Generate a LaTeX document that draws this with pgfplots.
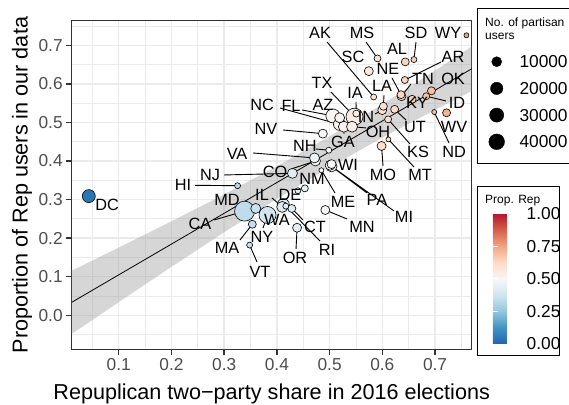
\documentclass[border=0pt]{standalone}
\usepackage{fontspec}
\setmainfont{Liberation Sans}
\usepackage{pgfplots}
\usepackage{pgfplotstable}
\pgfplotsset{compat=1.18}
\definecolor{gridc}{HTML}{EBEBEB}
\definecolor{framec}{HTML}{333333}
\definecolor{tickc}{HTML}{4D4D4D}
\definecolor{bandc}{HTML}{999999}
\newcommand{\tickfont}{\fontsize{17.3bp}{20bp}\selectfont}
\newcommand{\titlefont}{\fontsize{21.6bp}{25bp}\selectfont}
\newcommand{\labfont}{\fontsize{16.3bp}{19bp}\selectfont}
\newcommand{\legtitlefont}{\fontsize{12bp}{13bp}\selectfont}
\pgfplotsset{colormap={RdBu}{rgb255=(33,102,172) rgb255=(67,147,195) rgb255=(146,197,222) rgb255=(209,229,240) rgb255=(247,247,247) rgb255=(253,219,199) rgb255=(244,165,130) rgb255=(214,96,77) rgb255=(178,24,43)}}
\pgfplotsset{statepts/.style={forget plot, scatter, only marks, mark=*, point meta=explicit,
  scatter/use mapped color={draw=black, fill=mapped color},
  mark options={line width=0.6bp}, mark size=#1}}

% state labels: state, label position
\pgfplotstableread{
st lx ly
AK 0.4818 0.7319
AL 0.6278 0.6904
AR 0.7341 0.6697
AZ 0.4875 0.5452
CA 0.2542 0.2367
CO 0.3964 0.3715
CT 0.4723 0.2289
DC 0.0778 0.2860
DE 0.4249 0.3119
FL 0.4268 0.5426
GA 0.5254 0.4493
HI 0.2219 0.3378
IA 0.5482 0.5763
ID 0.7417 0.5504
IL 0.3718 0.3119
IN 0.5690 0.5141
KS 0.6677 0.4234
KY 0.6658 0.5504
LA 0.5994 0.5945
MA 0.3054 0.1745
MD 0.3054 0.2989
ME 0.5254 0.2943
MI 0.6411 0.2549
MN 0.5615 0.2294
MO 0.6013 0.3638
MS 0.5615 0.7319
MT 0.6715 0.3638
NC 0.3718 0.5452
ND 0.7360 0.4234
NE 0.6108 0.6386
NH 0.4533 0.4389
NJ 0.2731 0.3638
NM 0.4666 0.3534
NV 0.3794 0.4830
NY 0.3718 0.2030
OH 0.5918 0.4753
OK 0.7341 0.6126
OR 0.4344 0.1486
PA 0.5899 0.2989
RI 0.4951 0.1693
SC 0.5444 0.6697
SD 0.6639 0.7319
TN 0.6772 0.6126
TX 0.4856 0.6022
UT 0.6620 0.4882
VA 0.3244 0.4189
VT 0.3680 0.1123
WA 0.4002 0.2471
WI 0.5349 0.3897
WV 0.7360 0.4882
WY 0.7246 0.7319
}\labels

% points grouped by number of partisan users (x = Rep two-party share 2016, y = prop. Rep users)
\pgfplotstableread{
st x y
CA 0.3387 0.270
}\gA % ~76000 users
\pgfplotstableread{
st x y
NY 0.3822 0.260
TX 0.5472 0.515
}\gB % ~50000
\pgfplotstableread{
st x y
FL 0.5062 0.517
}\gC % ~29000
\pgfplotstableread{
st x y
DC 0.0432 0.309
}\gD % ~23000
\pgfplotstableread{
st x y
NC 0.5187 0.495
WA 0.4121 0.287
}\gE % ~18000
\pgfplotstableread{
st x y
GA 0.5270 0.489
IL 0.4101 0.281
OH 0.5425 0.489
PA 0.5037 0.386
}\gF % ~14000
\pgfplotstableread{
st x y
AZ 0.5190 0.512
CO 0.4732 0.400
MD 0.3599 0.277
MI 0.5011 0.389
NJ 0.4295 0.368
VA 0.4713 0.408
}\gG % ~10000
\pgfplotstableread{
st x y
IN 0.5998 0.532
MN 0.4918 0.273
MO 0.5985 0.439
NV 0.4872 0.471
OR 0.4383 0.227
SC 0.5743 0.633
TN 0.6363 0.568
WI 0.5037 0.392
}\gH % ~7000
\pgfplotstableread{
st x y
AL 0.6435 0.657
CT 0.4283 0.277
KY 0.6565 0.560
LA 0.6020 0.542
MA 0.3534 0.236
NE 0.6353 0.572
OK 0.6932 0.582
UT 0.6233 0.534
WV 0.7218 0.525
}\gI % ~4000
\pgfplotstableread{
st x y
AR 0.6426 0.610
IA 0.5506 0.523
ID 0.6832 0.568
KS 0.6110 0.508
MS 0.5908 0.666
NM 0.4530 0.329
}\gJ % ~2000
\pgfplotstableread{
st x y
AK 0.5836 0.566
DE 0.4399 0.323
HI 0.3254 0.336
NH 0.4984 0.428
RI 0.4169 0.283
SD 0.6599 0.663
VT 0.3483 0.182
}\gK % ~900
\pgfplotstableread{
st x y
ME 0.4844 0.376
MT 0.6115 0.456
ND 0.6984 0.527
WY 0.7595 0.726
}\gL % ~150

% label leader segments: from label edge to the point
\pgfplotstableread{
x y
0.4951 0.7086
0.5836 0.566
nan nan
0.7113 0.6567
0.6426 0.610
nan nan
0.5064 0.5271
0.5190 0.512
nan nan
0.2807 0.2471
0.3387 0.270
nan nan
0.4268 0.3793
0.4732 0.400
nan nan
0.4495 0.2471
0.4283 0.277
nan nan
0.4477 0.5323
0.5062 0.517
nan nan
0.5273 0.4701
0.5270 0.489
nan nan
0.2447 0.3370
0.3254 0.336
nan nan
0.5500 0.5529
0.5506 0.523
nan nan
0.7208 0.5556
0.6832 0.568
nan nan
0.3907 0.3042
0.4101 0.281
nan nan
0.5861 0.5219
0.5998 0.532
nan nan
0.6525 0.4441
0.6110 0.508
nan nan
0.6032 0.5711
0.6020 0.542
nan nan
0.3300 0.1952
0.3534 0.236
nan nan
0.3319 0.2912
0.3599 0.277
nan nan
0.5102 0.3171
0.4844 0.376
nan nan
0.6222 0.2704
0.5011 0.389
nan nan
0.5330 0.2497
0.4918 0.273
nan nan
0.6013 0.3871
0.5985 0.439
nan nan
0.5691 0.7086
0.5908 0.666
nan nan
0.6601 0.3845
0.6115 0.456
nan nan
0.4059 0.5375
0.5187 0.495
nan nan
0.7265 0.4467
0.6984 0.527
nan nan
0.6184 0.6152
0.6353 0.572
nan nan
0.4742 0.4311
0.4984 0.428
nan nan
0.2997 0.3638
0.4295 0.368
nan nan
0.4116 0.4804
0.4872 0.471
nan nan
0.3737 0.2263
0.3822 0.260
nan nan
0.5690 0.4857
0.5425 0.489
nan nan
0.4363 0.1719
0.4383 0.227
nan nan
0.5709 0.3171
0.5037 0.386
nan nan
0.4818 0.1926
0.4169 0.283
nan nan
0.6639 0.7086
0.6599 0.663
nan nan
0.6544 0.5997
0.6363 0.568
nan nan
0.5026 0.5789
0.5472 0.515
nan nan
0.6449 0.5063
0.6233 0.534
nan nan
0.3547 0.4208
0.4713 0.408
nan nan
0.3623 0.1382
0.3483 0.182
nan nan
0.4059 0.2704
0.4121 0.287
}\segs

% confidence band of the linear fit (upper edge, then lower edge back)
\pgfplotstableread{
x y
0.0108 0.1156
0.1 0.1755
0.2 0.2436
0.3 0.3134
0.4 0.3864
0.5 0.4640
0.6 0.5471
0.7 0.6344
0.7695 0.6971
0.7695 0.5811
0.7 0.5328
0.6 0.4605
0.5 0.3840
0.4 0.3020
0.3 0.2154
0.2 0.1256
0.1 0.0341
0.0108 -0.0484
}\band

\pgfplotstableread{
x y
0.0108 0.0336
0.7695 0.6391
}\fit

% size legend entries
\pgfplotstableread{
x y lab
0.443 4 10000
0.443 3 20000
0.443 2 30000
0.443 1 40000
}\sizelab

\begin{document}
\begin{tikzpicture}
\path[use as bounding box] (0,0) rectangle (569bp,405bp);
\begin{axis}[
  at={(71.7bp,55.7bp)}, anchor=south west,
  scale only axis, width=400bp, height=328.6bp,
  xmin=0.0108, xmax=0.7695, ymin=-0.0882, ymax=0.7638,
  xtick={0.1,0.2,0.3,0.4,0.5,0.6,0.7},
  ytick={0,0.1,0.2,0.3,0.4,0.5,0.6,0.7},
  minor xtick={0.05,0.15,0.25,0.35,0.45,0.55,0.65,0.75},
  minor ytick={-0.05,0.05,0.15,0.25,0.35,0.45,0.55,0.65,0.75},
  grid=both,
  major grid style={gridc, line width=1.5bp},
  minor grid style={gridc, line width=0.75bp},
  axis line style={framec, line width=1.4bp},
  tick align=outside, tick pos=left,
  major tick length=5.5bp, minor tick length=0pt,
  major tick style={framec, line width=1.4bp},
  ticklabel style={font=\tickfont, text=tickc},
  xticklabel style={/pgf/number format/.cd, fixed, fixed zerofill, precision=1, assume math mode=true},
  yticklabel style={/pgf/number format/.cd, fixed, fixed zerofill, precision=1, assume math mode=true},
  xlabel={Repuplican two−party share in 2016 elections},
  ylabel={Proportion of Rep users in our data},
  label style={font=\titlefont, text=black},
  xlabel style={at={(axis description cs:0.5,0)}, anchor=north, inner sep=0pt, yshift=-34bp},
  ylabel style={at={(axis description cs:-0.15,0.5)}, anchor=north, inner sep=0pt},
  point meta min=0, point meta max=1,
  colorbar,
  colorbar style={
    at={(parent axis.south east)}, anchor=south west,
    xshift=12.6bp, yshift=5.3bp,
    scale only axis, width=27.4bp, height=130.3bp,
    axis line style={draw=none},
    ytick={0,0.25,0.5,0.75,1},
    tick align=inside, ytick pos=both, yticklabel pos=right,
    major tick length=5bp,
    major tick style={white, line width=1bp},
    yticklabel style={font=\tickfont, text=black, inner sep=0pt, xshift=6.3bp,
      /pgf/number format/.cd, fixed, fixed zerofill, precision=2, assume math mode=true},
    axis on top,
  },
]
\addplot[forget plot, fill=bandc, fill opacity=0.4, draw=none] table {\band};
\addplot[forget plot, black, line width=0.8bp, no markers] table {\fit};
\addplot[forget plot, black, line width=0.9bp, no markers, unbounded coords=jump] table {\segs};
\addplot[statepts=10bp] table[x=x, y=y, meta=x] {\gA};
\addplot[statepts=8.5bp] table[x=x, y=y, meta=x] {\gB};
\addplot[statepts=7bp] table[x=x, y=y, meta=x] {\gC};
\addplot[statepts=6.5bp] table[x=x, y=y, meta=x] {\gD};
\addplot[statepts=6bp] table[x=x, y=y, meta=x] {\gE};
\addplot[statepts=5.5bp] table[x=x, y=y, meta=x] {\gF};
\addplot[statepts=5bp] table[x=x, y=y, meta=x] {\gG};
\addplot[statepts=4.5bp] table[x=x, y=y, meta=x] {\gH};
\addplot[statepts=4bp] table[x=x, y=y, meta=x] {\gI};
\addplot[statepts=3.5bp] table[x=x, y=y, meta=x] {\gJ};
\addplot[statepts=3bp] table[x=x, y=y, meta=x] {\gK};
\addplot[statepts=2.5bp] table[x=x, y=y, meta=x] {\gL};
\addplot[forget plot, only marks, mark=none, point meta=explicit symbolic,
  nodes near coords,
  every node near coord/.append style={font=\labfont, text=black, anchor=center, inner sep=0pt}]
  table[x=lx, y=ly, meta=st] {\labels};
\end{axis}
% size legend (No. of partisan users)
\begin{axis}[
  at={(488.3bp,249.85bp)}, anchor=south west,
  scale only axis, width=70bp, height=106.8bp,
  xmin=0, xmax=1, ymin=0.5, ymax=4.5, hide axis, clip=false,
]
\addplot[only marks, mark=*, black, mark size=5bp] coordinates {(0.12,4)};
\addplot[only marks, mark=*, black, mark size=6.18bp] coordinates {(0.12,3)};
\addplot[only marks, mark=*, black, mark size=7.09bp] coordinates {(0.12,2)};
\addplot[only marks, mark=*, black, mark size=7.85bp] coordinates {(0.12,1)};
\addplot[only marks, mark=none, point meta=explicit symbolic, nodes near coords,
  every node near coord/.append style={font=\tickfont, text=black, anchor=west, inner sep=0pt}]
  table[x=x, y=y, meta=lab] {\sizelab};
\end{axis}
\draw[black, line width=0.8bp] (477.7bp,241.7bp) rectangle (585bp,396.7bp);
\node[anchor=base west, font=\legtitlefont, inner sep=0pt] at (485bp,378bp) {No. of partisan};
\node[anchor=base west, font=\legtitlefont, inner sep=0pt] at (485bp,365bp) {users};
\draw[black, line width=0.8bp] (477.7bp,49.3bp) rectangle (559bp,218.3bp);
\node[anchor=base west, font=\legtitlefont, inner sep=0pt] at (485bp,201.5bp) {Prop. Rep};
\end{tikzpicture}
\end{document}
